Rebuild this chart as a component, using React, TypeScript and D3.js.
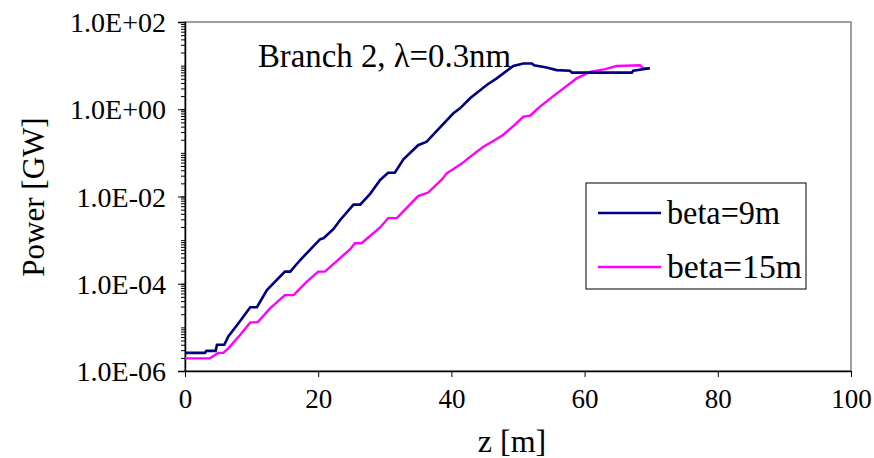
import React, { useEffect, useRef } from 'react'
import * as d3 from 'd3'

// z [m] and power [GW]
const zBeta9 = [0, 3.0, 3.2, 4.6, 4.8, 5.9, 6.5, 8.0, 9.8, 10.8, 12.3, 15.0, 15.8, 17.3, 20.3, 20.8, 22.3, 23.3, 25.3, 26.3, 27.8, 29.3, 30.5, 31.5, 32.8, 35.0, 36.3, 37.8, 40.3, 41.3, 42.8, 45.3, 46.8, 49.3, 50.8, 52.1, 52.4, 54.3, 55.8, 57.8, 58.1, 67.1, 67.3, 69.8]
const pBeta9 = [2.6e-6, 2.6e-6, 2.9e-6, 2.9e-6, 4.0e-6, 4.0e-6, 6.2e-6, 1.23e-5, 2.9e-5, 2.9e-5, 7.2e-5, 1.9e-4, 1.9e-4, 3.5e-4, 1.05e-3, 1.1e-3, 1.8e-3, 2.9e-3, 6.5e-3, 6.5e-3, 1.15e-2, 2.4e-2, 3.5e-2, 3.5e-2, 7.1e-2, 0.15, 0.18, 0.32, 0.81, 1.05, 1.78, 3.6, 5.1, 9.8, 11.2, 11.2, 10.2, 9.1, 7.9, 7.6, 6.9, 6.9, 7.6, 8.7]

const zBeta15 = [0, 3.75, 4.25, 5.0, 5.75, 6.5, 8.3, 9.8, 10.9, 12.8, 15.0, 16.3, 18.3, 20.0, 21.0, 24.8, 25.5, 26.5, 29.3, 30.5, 31.8, 35.0, 36.5, 38.5, 39.3, 41.5, 42.8, 44.8, 46.1, 47.8, 49.5, 50.8, 51.8, 53.3, 55.3, 57.8, 58.8, 60.8, 63.1, 64.8, 68.3, 68.8, 69.8]
const pBeta15 = [1.95e-6, 1.95e-6, 2.2e-6, 2.6e-6, 2.6e-6, 3.3e-6, 6.8e-6, 1.3e-5, 1.3e-5, 2.75e-5, 5.5e-5, 5.5e-5, 1.12e-4, 1.9e-4, 1.9e-4, 6.2e-4, 8.5e-4, 8.5e-4, 1.95e-3, 3.2e-3, 3.2e-3, 1.02e-2, 1.23e-2, 2.4e-2, 3.4e-2, 5.6e-2, 8.1e-2, 0.138, 0.18, 0.26, 0.44, 0.68, 0.71, 1.15, 2.0, 3.9, 5.1, 7.2, 8.3, 9.8, 10.2, 8.7, 8.7]

const seriesNames = ['beta=9m', 'beta=15m']
const seriesColors = ['#000080', '#ff00ff']
const xTicks = [0, 20, 40, 60, 80, 100]
const yTicks = [1e-6, 1e-4, 1e-2, 1e0, 1e2]
const yTickLabels = ['1.0E-06', '1.0E-04', '1.0E-02', '1.0E+00', '1.0E+02']

const W = 874
const H = 458
const margin = { top: 22, right: 23, bottom: 87, left: 185 }
const font = '"Liberation Serif", "Times New Roman", serif'

const PowerChart = () => {
  const ref = useRef<SVGSVGElement>(null)

  useEffect(() => {
    const svg = d3.select(ref.current)
    svg.selectAll('*').remove()

    const iw = W - margin.left - margin.right
    const ih = H - margin.top - margin.bottom

    const x = d3.scaleLinear().domain([0, 100]).range([0, iw])
    const y = d3.scaleLog().domain([1e-6, 1e2]).range([ih, 0])

    const g = svg.append('g').attr('transform', `translate(${margin.left},${margin.top})`)

    // plot area frame (grey top / right)
    g.append('rect')
      .attr('x', 0).attr('y', 0).attr('width', iw).attr('height', ih)
      .attr('fill', 'none').attr('stroke', '#808080').attr('stroke-width', 1.5)

    // minor log ticks
    const minors: number[] = []
    for (let e = -6; e < 2; e++) for (let m = 1; m < 10; m++) minors.push(m * Math.pow(10, e))
    const minorAxis = g.append('g').call(d3.axisLeft(y).tickValues(minors).tickSize(4).tickFormat(() => ''))
    minorAxis.select('.domain').remove()
    minorAxis.selectAll('line').attr('stroke', '#000')

    const yAxis = g.append('g')
      .call(d3.axisLeft(y).tickValues(yTicks).tickSize(7).tickPadding(12)
        .tickFormat((d, i) => yTickLabels[i]))
    yAxis.select('.domain').attr('stroke-width', 1.5)
    yAxis.selectAll('text').attr('font-family', font).attr('font-size', 28).attr('fill', '#000')
      .attr('dy', '0.34em')

    const xAxis = g.append('g').attr('transform', `translate(0,${ih})`)
      .call(d3.axisBottom(x).tickValues(xTicks).tickSize(6).tickSizeOuter(0).tickPadding(12))
    xAxis.select('.domain').attr('stroke-width', 1.5)
    xAxis.selectAll('text').attr('font-family', font).attr('font-size', 27).attr('fill', '#000')

    const line = d3.line<[number, number]>().x(d => x(d[0])).y(d => y(d[1]))
    const series: [number, number][][] = [
      zBeta9.map((z, i) => [z, pBeta9[i]]),
      zBeta15.map((z, i) => [z, pBeta15[i]])
    ]
    // magenta first so navy sits on top where they cross
    ;[1, 0].forEach(k => {
      g.append('path')
        .attr('d', line(series[k]))
        .attr('fill', 'none')
        .attr('stroke', seriesColors[k])
        .attr('stroke-width', k === 0 ? 2.6 : 2.4)
    })

    g.append('text')
      .attr('x', 73).attr('y', 45)
      .attr('font-family', font).attr('font-size', 33)
      .attr('textLength', 253).attr('lengthAdjust', 'spacingAndGlyphs')
      .text('Branch 2, λ=0.3nm')

    // legend
    const lg = g.append('g').attr('transform', `translate(${586 - margin.left},${183 - margin.top})`)
    lg.append('rect').attr('width', 220).attr('height', 106)
      .attr('fill', '#fff').attr('stroke', '#000').attr('stroke-width', 1)
    const legendWidths = [113, 135]
    seriesNames.forEach((name, i) => {
      const cy = 30 + i * 54
      lg.append('line').attr('x1', 12).attr('x2', 75).attr('y1', cy).attr('y2', cy)
        .attr('stroke', seriesColors[i]).attr('stroke-width', 2.6)
      lg.append('text').attr('x', 81).attr('y', cy + 11)
        .attr('font-family', font).attr('font-size', 33)
        .attr('textLength', legendWidths[i]).attr('lengthAdjust', 'spacingAndGlyphs')
        .text(name)
    })

    svg.append('text')
      .attr('x', margin.left + iw / 2 - 6).attr('y', 452)
      .attr('text-anchor', 'middle')
      .attr('font-family', font).attr('font-size', 32)
      .text('z [m]')

    svg.append('text')
      .attr('transform', `translate(44,${margin.top + 175}) rotate(-90)`)
      .attr('text-anchor', 'middle')
      .attr('font-family', font).attr('font-size', 31)
      .text('Power [GW]')
  }, [])

  return <svg ref={ref} width={W} height={H} style={{ display: 'block', background: '#fff' }} />
}

const App = () => {
  document.body.style.margin = '0'
  return <PowerChart />
}

export default App
